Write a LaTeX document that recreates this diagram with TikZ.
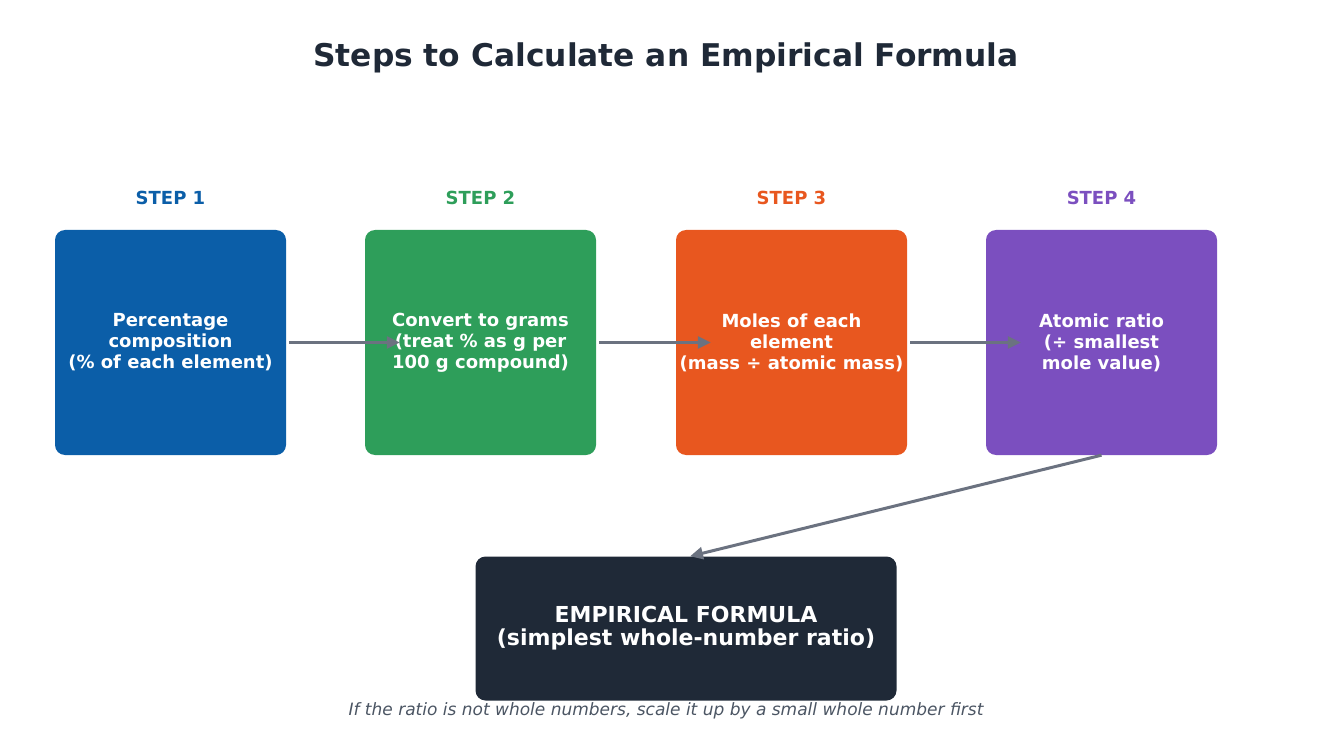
\documentclass[tikz,border=0pt]{standalone}
\usepackage{fontspec}
\setmainfont{DejaVu Sans}
\usetikzlibrary{arrows.meta}

\definecolor{titelgrau}{HTML}{1F2937}
\definecolor{blau}{HTML}{0B5EA8}
\definecolor{gruen}{HTML}{2E9E5A}
\definecolor{orange}{HTML}{E8571F}
\definecolor{lila}{HTML}{7B4FBF}
\definecolor{pfeilgrau}{HTML}{6B7280}
\definecolor{notizgrau}{HTML}{4B5563}

\tikzset{
	kasten/.style={rounded corners=10pt, minimum width=231pt, minimum height=225pt, inner sep=0pt, text=white, align=center, font=\fontsize{18}{21}\selectfont\bfseries},
	schritt/.style={font=\fontsize{18}{21}\selectfont\bfseries},
	pfeil/.style={line width=3pt, draw=pfeilgrau, -{Triangle[length=13pt,width=12pt]}}
}

\begin{document}
\begin{tikzpicture}[x=1pt,y=-1pt]
%\draw [lightgray](0,0) grid[step=50] (1331,746);
	\useasboundingbox (0,0) rectangle (1331,746);

	% Titel
	\node[text=titelgrau, font=\fontsize{31.3}{36}\selectfont\bfseries] (titel) at (666,58) {Steps to Calculate an Empirical Formula};

	% Die vier Schritte (Kasten und Ueberschrift)
	\node[kasten, fill=blau] (schritt1) at (170.5,342.5) {Percentage\\composition\\(\% of each element)};
	\node[schritt, text=blau] (kopf1) at (170.5,198) {STEP 1};

	\node[kasten, fill=gruen] (schritt2) at (480.5,342.5) {Convert to grams\\(treat \% as g per\\100 g compound)};
	\node[schritt, text=gruen] (kopf2) at (480.5,198) {STEP 2};

	\node[kasten, fill=orange] (schritt3) at (791.5,342.5) {Moles of each\\element\\(mass ÷ atomic mass)};
	\node[schritt, text=orange] (kopf3) at (791.5,198) {STEP 3};

	\node[kasten, fill=lila] (schritt4) at (1101.5,342.5) {Atomic ratio\\(÷ smallest\\mole value)};
	\node[schritt, text=lila] (kopf4) at (1101.5,198) {STEP 4};

	% Ergebnis unten
	\node[kasten, fill=titelgrau, minimum width=421pt, minimum height=144pt, font=\fontsize{22}{23}\selectfont\bfseries] (ergebnis) at (686,628.5) {EMPIRICAL FORMULA\\(simplest whole-number ratio)};

	% Pfeile zwischen den Schritten (enden im naechsten Kasten)
	\draw[pfeil] ([xshift=3pt]schritt1.east) -- ([xshift=35pt]schritt2.west);
	\draw[pfeil] ([xshift=3pt]schritt2.east) -- ([xshift=35pt]schritt3.west);
	\draw[pfeil] ([xshift=3pt]schritt3.east) -- ([xshift=35pt]schritt4.west);

	% Pfeil von Schritt 4 zum Ergebnis
	\draw[pfeil] (schritt4.south) -- ([xshift=4pt]ergebnis.north);

	% Hinweis
	\node[text=notizgrau, font=\fontsize{17}{20}\selectfont\itshape] (hinweis) at (666,711) {If the ratio is not whole numbers, scale it up by a small whole number first};

\end{tikzpicture}
\end{document}
